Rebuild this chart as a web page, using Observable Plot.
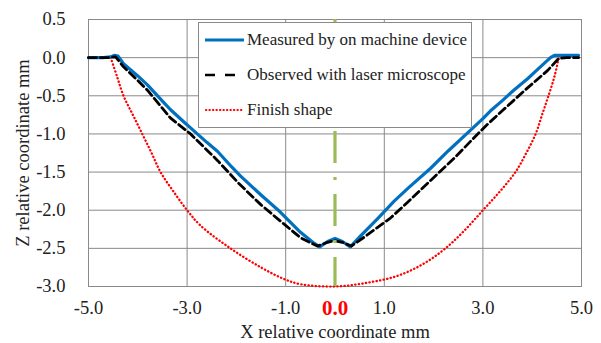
<!DOCTYPE html>
<html><head><meta charset="utf-8">
<script src="https://cdn.jsdelivr.net/npm/d3@7"></script>
<script src="https://cdn.jsdelivr.net/npm/@observablehq/plot@0.6"></script>
<style>
body{margin:0;background:#fff;}
#wrap{position:relative;width:601px;height:343px;font-family:"Liberation Serif","Times New Roman",serif;}
#legend{position:absolute;left:198px;top:22px;width:274px;height:106px;border:1px solid #8a8a8a;background:#fff;box-sizing:border-box;}
.row{position:absolute;left:6px;height:20px;display:flex;align-items:center;font-family:"Liberation Serif","Times New Roman",serif;font-size:17px;color:#222;white-space:nowrap;}
.row svg{margin-right:3px;}
</style>
</head><body>
<div id="wrap"><div id="chart"></div>
<div id="legend">
<div class="row" style="top:7px"><svg width="39" height="6"><line x1="0" y1="3" x2="39" y2="3" stroke="#0070C0" stroke-width="3"/></svg>Measured by on machine device</div>
<div class="row" style="top:42px"><svg width="39" height="6"><line x1="0" y1="3" x2="31" y2="3" stroke="#000" stroke-width="2.5" stroke-dasharray="10,10"/></svg>Observed with laser microscope</div>
<div class="row" style="top:77px"><svg width="39" height="6"><line x1="1" y1="3" x2="39" y2="3" stroke="#ff0000" stroke-width="2.2" stroke-linecap="round" stroke-dasharray="0.3,3.2"/></svg>Finish shape</div>
</div>
</div>
<script>
const measuredX = [-5.0,-4.7,-4.55,-4.48,-4.4,-4.29,-4.0,-3.8,-3.5,-3.34,-3.07,-2.93,-2.6,-2.38,-2.1,-1.92,-1.5,-1.15,-0.7,-0.45,-0.31,-0.15,0.0,0.15,0.31,0.5,0.88,1.2,1.5,1.94,2.3,2.75,3.0,3.15,3.4,3.62,3.9,4.1,4.37,4.45,4.6,4.94];
const measuredZ = [0,0,0.01,0.03,0.02,-0.08,-0.24,-0.36,-0.57,-0.68,-0.84,-0.92,-1.11,-1.23,-1.43,-1.55,-1.8,-2.0,-2.29,-2.42,-2.48,-2.41,-2.37,-2.41,-2.48,-2.35,-2.1,-1.88,-1.7,-1.45,-1.22,-0.95,-0.8,-0.7,-0.56,-0.43,-0.28,-0.16,0.0,0.03,0.03,0.03];
const observedX = [-5.0,-4.6,-4.45,-4.29,-4.0,-3.8,-3.34,-2.93,-2.38,-1.95,-1.5,-1.15,-0.7,-0.36,-0.15,0.0,0.15,0.33,0.6,1.13,1.5,1.94,2.4,2.85,3.1,3.42,3.9,4.31,4.54,4.7,4.94];
const observedZ = [0,0,0.01,-0.12,-0.3,-0.43,-0.79,-1.0,-1.35,-1.65,-1.93,-2.12,-2.36,-2.47,-2.42,-2.4,-2.42,-2.47,-2.35,-2.1,-1.88,-1.61,-1.33,-1.03,-0.87,-0.68,-0.4,-0.17,-0.01,0,0];
const finishX = [-4.55,-4.42,-4.29,-4.1,-3.91,-3.72,-3.54,-3.27,-3.0,-2.73,-2.12,-1.5,-1.04,-0.7,0,0.66,1.27,1.8,2.24,2.62,3.0,3.35,3.66,3.88,4.07,4.2,4.33,4.45,4.54];
const finishZ = [0,-0.25,-0.5,-0.75,-1.0,-1.25,-1.5,-1.76,-2.0,-2.2,-2.5,-2.75,-2.9,-2.97,-3.0,-2.95,-2.86,-2.7,-2.5,-2.27,-2.0,-1.75,-1.5,-1.25,-1.0,-0.75,-0.5,-0.25,0];
const xTicks = [-5,-3,-1,1,3,5];
const xCenterTick = [0];
const xGrid = [-3,-1,1,3];
const yTicks = [0.5,0,-0.5,-1,-1.5,-2,-2.5,-3];
const centerLine = [0];
const xTitle = "X relative coordinate mm";
const yTitle = "Z relative coordinate mm";

const measured = measuredX.map((x,i)=>({x, z: measuredZ[i]}));
const observed = observedX.map((x,i)=>({x, z: observedZ[i]}));
const finish = finishX.map((x,i)=>({x, z: finishZ[i]}));
const font = '"Liberation Serif","Times New Roman",serif';
const fmt = d => d.toFixed(1);

const chart = Plot.plot({
  width: 601, height: 343,
  marginLeft: 88, marginRight: 20, marginTop: 19, marginBottom: 57,
  style: {fontFamily: font, background: "#fff", color: "#222"},
  x: {domain: [-5, 5]},
  y: {domain: [-3, 0.5]},
  marks: [
    Plot.gridX(xGrid, {stroke: "#8a8a8a", strokeOpacity: 1, strokeWidth: 1}),
    Plot.gridY(yTicks, {stroke: "#8a8a8a", strokeOpacity: 1, strokeWidth: 1}),
    Plot.frame({stroke: "#8a8a8a"}),
    Plot.line(finish, {x: "x", y: "z", stroke: "#ff0000", strokeWidth: 2.3, strokeLinecap: "round", strokeDasharray: "0.3,3.3", curve: "catmull-rom"}),
    Plot.line(measured, {x: "x", y: "z", stroke: "#0070C0", strokeWidth: 3.2}),
    Plot.line(observed, {x: "x", y: "z", stroke: "#000", strokeWidth: 2.8, strokeDasharray: "8,4"}),
    Plot.ruleX(centerLine, {stroke: "#9BBB59", strokeWidth: 3.2, strokeDasharray: "32,14,3,14", strokeDashoffset: 14}),
    Plot.axisX(xTicks, {tickSize: 0, tickPadding: 14, tickFormat: fmt, fontSize: 18.5, fontFamily: font, label: xTitle, labelArrow: "none", labelAnchor: "center", labelOffset: 51}),
    Plot.axisX(xCenterTick, {tickSize: 0, tickPadding: 14, tickFormat: fmt, fontSize: 21, fontFamily: font, fontWeight: "bold", fill: "#ff0000", color: "#ff0000", label: null}),
    Plot.axisY(yTicks, {tickSize: 0, tickPadding: 23, tickFormat: fmt, fontSize: 18.5, fontFamily: font, label: yTitle, labelArrow: "none", labelAnchor: "center", labelOffset: 73})
  ]
});
document.getElementById("chart").appendChild(chart);
</script>
</body></html>
